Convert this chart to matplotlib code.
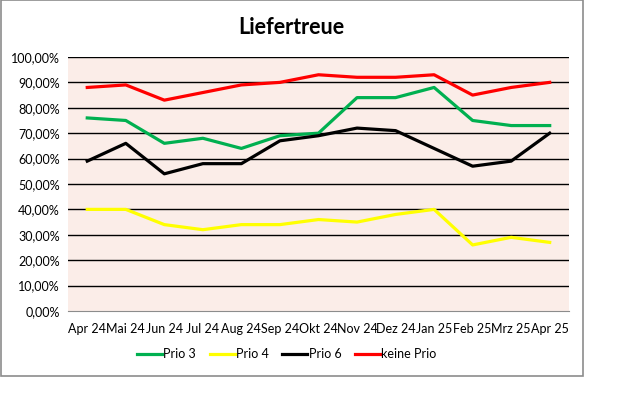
import matplotlib.pyplot as plt
from matplotlib.patches import Rectangle
from matplotlib.ticker import FuncFormatter

plt.rcParams['font.family'] = ['Lato', 'DejaVu Sans']
plt.rcParams['font.size'] = 9

months = ['Apr 24', 'Mai 24', 'Jun 24', 'Jul 24', 'Aug 24', 'Sep 24', 'Okt 24',
          'Nov 24', 'Dez 24', 'Jan 25', 'Feb 25', 'Mrz 25', 'Apr 25']
prio3 = [76, 75, 66, 68, 64, 69, 70, 84, 84, 88, 75, 73, 73]
prio4 = [40, 40, 34, 32, 34, 34, 36, 35, 38, 40, 26, 29, 27]
prio6 = [59, 66, 54, 58, 58, 67, 69, 72, 71, 64, 57, 59, 70]
keine = [88, 89, 83, 86, 89, 90, 93, 92, 92, 93, 85, 88, 90]

series = [('Prio 3', prio3, '#00B050'),
          ('Prio 4', prio4, '#FFFF00'),
          ('Prio 6', prio6, '#000000'),
          ('keine Prio', keine, '#FF0000')]

fig = plt.figure(figsize=(6.26, 3.99), dpi=100)
ax = fig.add_axes([0.1086, 0.2206, 0.8003, 0.6366])
ax.set_facecolor('#FBEDE8')

# Rahmen ums Diagramm
fig.patches.append(Rectangle((0.001, 0.0576), 0.93, 0.9414, transform=fig.transFigure,
                             fill=False, edgecolor='#8c8c8c', linewidth=1.2))

for yv in range(10, 101, 10):
    ax.axhline(yv, color='black', linewidth=1, zorder=1)

x = list(range(len(months)))
for name, vals, col in series:
    ax.plot(x, vals, color=col, linewidth=2.3, label=name, zorder=3)

ax.set_xlim(-0.5, len(months) - 0.5)
ax.set_ylim(0, 100)
ax.set_yticks(range(0, 101, 10))
ax.yaxis.set_major_formatter(FuncFormatter(lambda v, p: f'{v:.2f}%'.replace('.', ',')))
ax.set_xticks(x)
ax.set_xticklabels(months)
ax.tick_params(length=0, pad=6)
ax.tick_params(axis='x', pad=9)

for s in ['top', 'right', 'left']:
    ax.spines[s].set_visible(False)
ax.spines['bottom'].set_color('#8c8c8c')

fig.text(0.465, 0.932, 'Liefertreue', ha='center', va='center',
         fontsize=15.5, fontweight='bold')

fig.legend(loc='center', bbox_to_anchor=(0.458, 0.113), ncol=4, frameon=False,
           handlelength=2.0, handletextpad=0.1, columnspacing=1.1, fontsize=9)

fig.savefig('out.png', dpi=100)
